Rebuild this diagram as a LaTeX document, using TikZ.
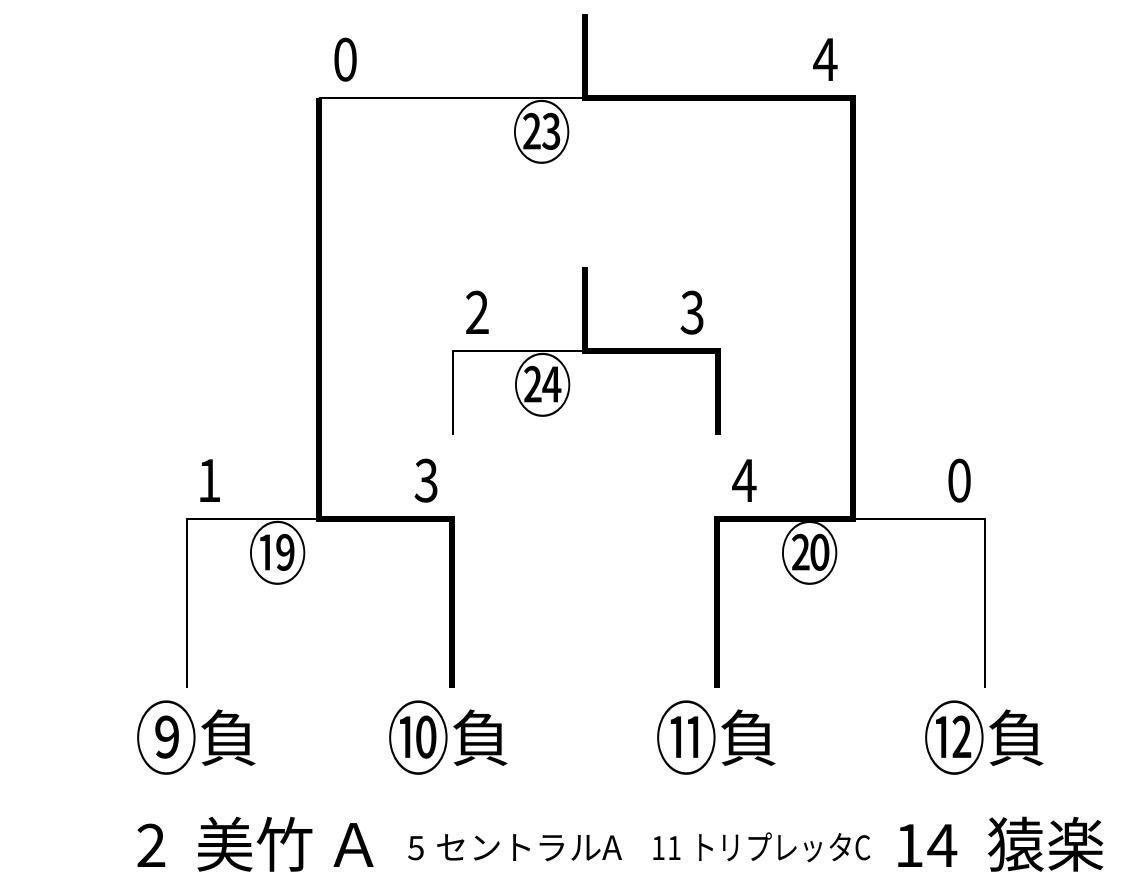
\documentclass[tikz,border=0pt]{standalone}
\usepackage{fontspec}
\setmainfont{Noto Sans CJK JP}
\usepackage{graphicx}
\newcommand{\scorenum}[1]{\scalebox{0.82}[1]{#1}}
\newcommand{\gamenum}[1]{\scalebox{1.25}[1.45]{#1}}
\newcommand{\seednum}[1]{\raisebox{-0.12em}{\scalebox{1.02}[1.3]{#1}}}
\begin{document}
\begin{tikzpicture}[x=0.02cm,y=-0.02cm]
    \tikzstyle{win}=[line width=3.4pt]  % 勝ち上がり
    \tikzstyle{lose}=[line width=1.1pt]  % 負け
    \tikzstyle{score}=[inner sep=0pt,font=\fontsize{34pt}{36pt}\selectfont]
    \tikzstyle{game}=[inner sep=0pt,font=\fontsize{27pt}{30pt}\selectfont]
    \tikzstyle{seed}=[inner sep=0pt,font=\fontsize{35pt}{38pt}\selectfont]
    \tikzstyle{team}=[inner sep=0pt,font=\fontsize{34pt}{36pt}\selectfont]
    \tikzstyle{smallteam}=[inner sep=0pt,font=\fontsize{19pt}{22pt}\selectfont]
    \useasboundingbox (0,0) rectangle (1122,878);

    % 山の点
    \coordinate (b9) at (187,688);  \coordinate (l9) at (187,519);
    \coordinate (b10) at (452,688); \coordinate (l10) at (452,519);
    \coordinate (b11) at (717,688); \coordinate (l11) at (717,519);
    \coordinate (b12) at (985,688); \coordinate (l12) at (985,519);
    \coordinate (m19) at (319,519); \coordinate (t19) at (319,98);
    \coordinate (m20) at (853,519); \coordinate (t20) at (853,98);
    \coordinate (m23) at (585,98);  \coordinate (top23) at (585,14);
    \coordinate (a24b) at (453,435); \coordinate (a24) at (453,351);
    \coordinate (c24b) at (718,435); \coordinate (c24) at (718,351);
    \coordinate (m24) at (585,351); \coordinate (top24) at (585,267);

    % 線
    \draw[lose](b9)--(l9)--(m19);
    \draw[win](b10)--(l10)--(m19)--(t19);
    \draw[lose](t19)--(m23);
    \draw[win](b11)--(l11)--(m20)--(t20)--(m23)--(top23);
    \draw[lose](b12)--(l12)--(m20);
    \draw[lose](a24b)--(a24)--(m24);
    \draw[win](c24b)--(c24)--(m24)--(top24);

    % 得点と試合番号
    \node[score](s23a) at (346,60){\scorenum{0}};
    \node[score](s23b) at (826,60){\scorenum{4}};
    \node[game](g23) at (542,132){\gamenum{㉓}};
    \node[score](s24a) at (478,313){\scorenum{2}};
    \node[score](s24b) at (693,313){\scorenum{3}};
    \node[game](g24) at (543,385){\gamenum{㉔}};
    \node[score](s19a) at (210,481){\scorenum{1}};
    \node[score](s19b) at (427,481){\scorenum{3}};
    \node[score](s20a) at (745,481){\scorenum{4}};
    \node[score](s20b) at (960,481){\scorenum{0}};
    \node[game](g19) at (278,553){\gamenum{⑲}};
    \node[game](g20) at (810,553){\gamenum{⑳}};

    % 下の名前
    \node[seed](n9) at (198,738){\seednum{⑨}負};
    \node[seed](n10) at (450,738){\seednum{⑩}負};
    \node[seed](n11) at (718,738){\seednum{⑪}負};
    \node[seed](n12) at (986,738){\seednum{⑫}負};
    \node[team](t2) at (260,845){2\hspace{0.45em}美竹\hspace{0.15em}Ａ};
    \node[smallteam](t5) at (515,848){5\hspace{0.3em}セントラルA};
    \node[smallteam](t11) at (762,848){\scalebox{0.82}[1]{11\hspace{0.3em}トリプレッタC}};
    \node[team](t14) at (1000,845){14\hspace{0.45em}猿楽};
\end{tikzpicture}
\end{document}
